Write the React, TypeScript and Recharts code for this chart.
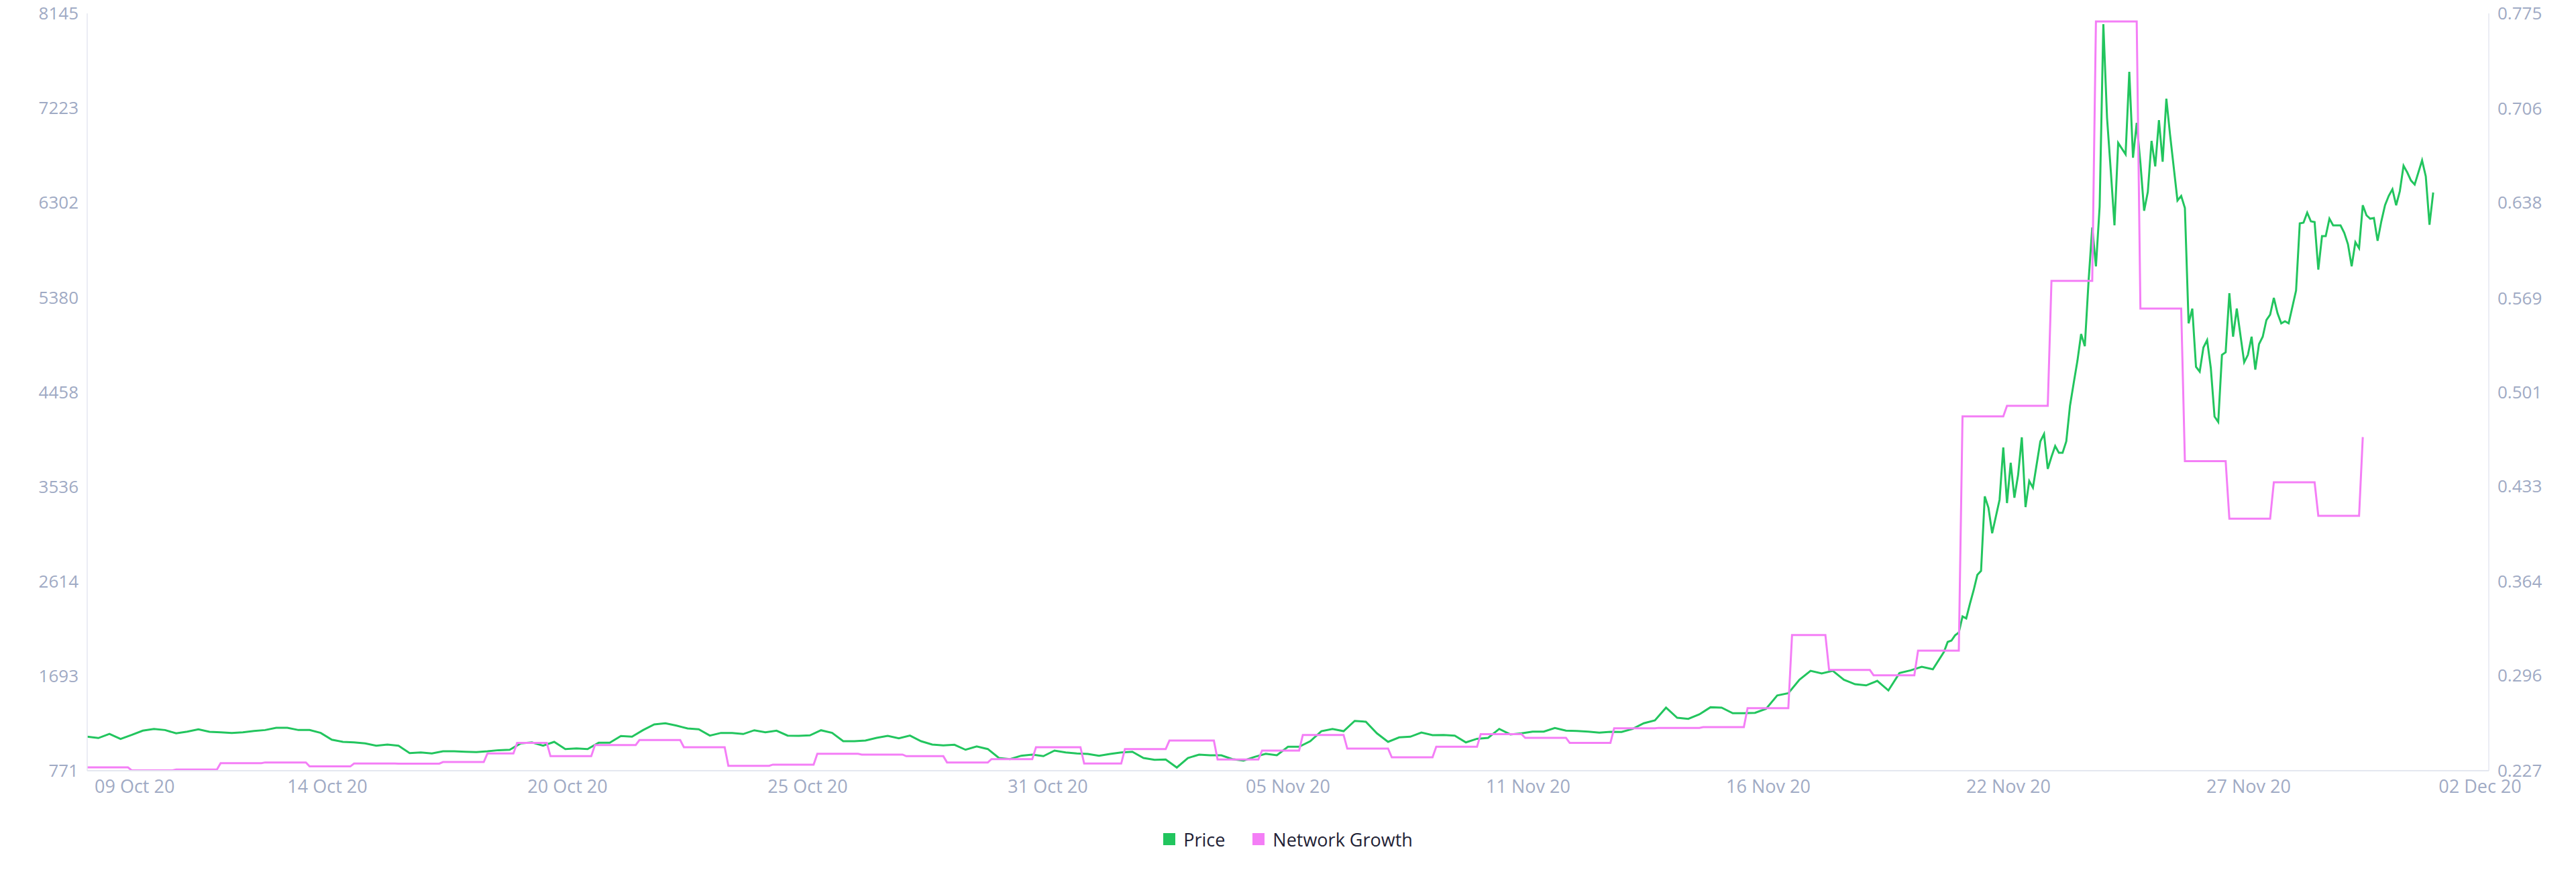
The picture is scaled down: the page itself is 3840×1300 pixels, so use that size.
import React from "react";
import { LineChart, Line, XAxis, YAxis, Legend } from "recharts";

const FONT = '"Open Sans", "Liberation Sans", sans-serif';
const TICK_COLOR = "#9faac4";
const AXIS_COLOR = "#e4e7f0";
const PRICE_COLOR = "#22c55e";
const NG_COLOR = "#f47ef6";

// x is hours since 09 Oct 20 00:00, the axis shows 54 days
const xTickLabels = [
	"09 Oct 20", "14 Oct 20", "20 Oct 20", "25 Oct 20", "31 Oct 20", "05 Nov 20",
	"11 Nov 20", "16 Nov 20", "22 Nov 20", "27 Nov 20", "02 Dec 20",
];
const xSpanHours = 54 * 24;
const xStep = xSpanHours / (xTickLabels.length - 1);
const xTicks = xTickLabels.map((_, i) => i * xStep);

const priceTicks = [771, 1693, 2614, 3536, 4458, 5380, 6302, 7223, 8145];
const ngTicks = [0.227, 0.296, 0.364, 0.433, 0.501, 0.569, 0.638, 0.706, 0.775];

// legend order as in the original
const seriesNames = ["Price", "Network Growth"];
const seriesColors = [PRICE_COLOR, NG_COLOR];

// price every 6 hours, 09 Oct -> 20 Nov
const calmPriceStep = 6;
const calmPrice = [
	1102, 1089, 1130, 1080, 1119, 1161, 1178, 1167, 1135, 1152, 1174, 1150, 1145, 1139, 1145, 1158, 1167, 1189, 1189, 1167,
	1167, 1139, 1073, 1052, 1047, 1037, 1015, 1026, 1015, 943, 949, 939, 960, 960, 956, 952, 960, 971, 975, 1037,
	1047, 1015, 1052, 982, 988, 982, 1043, 1043, 1109, 1102, 1167, 1222, 1233, 1210, 1182, 1174, 1113, 1139, 1139,
	1128, 1165, 1145, 1161, 1113, 1111, 1115, 1165, 1139, 1058, 1058, 1065, 1091, 1111, 1086, 1113, 1058, 1026, 1017, 1024,
	975, 1008, 982, 895, 884, 917, 928, 913, 967, 949, 939, 934, 917, 934, 949, 956, 895, 877, 880, 802,
	895, 928, 921, 921, 884, 869, 906, 936, 921, 1004, 1004, 1058, 1156, 1178,
	1156, 1256, 1248, 1135, 1052, 1096, 1102, 1143, 1117, 1119, 1113, 1047, 1082, 1091, 1178, 1124, 1135, 1152, 1152, 1187,
	1161, 1158, 1152, 1141, 1150, 1148, 1178, 1233, 1261, 1385, 1287, 1276, 1320, 1389, 1385, 1331, 1331, 1335, 1374, 1504,
	1526, 1657, 1744, 1718, 1744, 1657, 1613, 1602, 1646, 1553, 1722, 1748, 1783, 1759, 1929,
];

// the rally, [hour, price] at 2 hour resolution
const rallyPrice: [number, number][] = [
	[1004, 2025], [1006, 2038], [1008, 2090], [1010, 2116], [1012, 2273], [1014, 2254], [1016, 2397], [1018, 2528],
	[1020, 2678], [1022, 2717], [1024, 3442], [1026, 3331], [1028, 3083], [1032, 3410], [1034, 3919], [1036, 3377],
	[1038, 3769], [1040, 3429], [1042, 3651], [1044, 4017], [1046, 3338], [1048, 3592], [1050, 3527], [1054, 3978],
	[1056, 4050], [1058, 3710], [1060, 3828], [1062, 3932], [1064, 3867], [1066, 3867], [1068, 3978], [1070, 4324],
	[1072, 4546], [1074, 4761], [1076, 5023], [1078, 4905], [1080, 5532], [1082, 6061], [1084, 5682], [1086, 6264],
	[1088, 8040], [1090, 7126], [1092, 6616], [1094, 6081], [1096, 6884], [1100, 6773], [1102, 7576], [1104, 6740],
	[1106, 7080], [1108, 6688], [1110, 6224], [1112, 6407], [1114, 6904], [1116, 6655], [1118, 7106], [1120, 6701],
	[1122, 7315], [1124, 6963], [1128, 6323], [1130, 6368], [1132, 6251], [1134, 5127], [1136, 5271], [1138, 4703],
	[1140, 4657], [1142, 4892], [1144, 4964], [1146, 4690], [1148, 4219], [1150, 4167], [1152, 4820], [1154, 4846],
	[1156, 5421], [1158, 4997], [1160, 5271], [1164, 4748], [1166, 4820], [1168, 4997], [1170, 4677], [1172, 4925],
	[1174, 4997], [1176, 5160], [1178, 5212], [1180, 5375], [1182, 5225], [1184, 5127], [1186, 5147], [1188, 5127],
	[1192, 5447], [1194, 6100], [1196, 6107], [1198, 6205], [1200, 6120], [1202, 6113], [1204, 5650], [1206, 5976],
	[1208, 5976], [1210, 6146], [1212, 6081], [1216, 6081], [1218, 6009], [1220, 5898], [1222, 5682], [1224, 5918],
	[1226, 5859], [1228, 6277], [1230, 6179], [1232, 6146], [1234, 6153], [1236, 5931], [1238, 6120], [1240, 6277],
	[1242, 6368], [1244, 6433], [1246, 6277], [1248, 6414], [1250, 6662], [1252, 6597], [1254, 6518], [1256, 6479],
	[1260, 6714], [1262, 6558], [1264, 6087], [1266, 6401],
];

// network growth: hour each level starts, and its value
const ngStart = [
	0, 24, 48, 72, 96, 120, 144, 168, 192, 216, 232, 250, 274, 298, 322, 346, 370, 394, 418, 442,
	464, 488, 512, 538, 560, 584, 610, 634, 656, 680, 704, 728, 752, 776, 800, 824, 848, 872, 896, 920,
	940, 964, 988, 1012, 1036, 1060, 1084, 1108, 1132, 1156, 1180, 1204, 1228,
];
const ngValues = [
	0.2294, 0.2273, 0.2278, 0.2325, 0.233, 0.2301, 0.2322, 0.2321, 0.2333, 0.2395,
	0.2472, 0.2375, 0.2456, 0.2492, 0.244, 0.2305, 0.2314, 0.2392, 0.2387, 0.2375,
	0.233, 0.2354, 0.244, 0.2322, 0.2427, 0.2488, 0.2351, 0.2416, 0.2529, 0.243,
	0.2367, 0.2443, 0.2535, 0.2508, 0.2472, 0.2577, 0.258, 0.2585, 0.2723, 0.3252,
	0.2999, 0.2961, 0.3139, 0.4834, 0.4911, 0.5814, 0.7692, 0.5614, 0.451, 0.4094,
	0.4357, 0.4114, 0.4684,
];

const priceData = [
	...calmPrice.map((price, i) => ({ h: i * calmPriceStep, price })),
	...rallyPrice.map(([h, price]) => ({ h, price })),
];

// each level holds until 2h before the next one
const ngData = ngValues.flatMap((ng, i) =>
	i < ngValues.length - 1
		? [{ h: ngStart[i], ng }, { h: ngStart[i + 1] - 2, ng }]
		: [{ h: ngStart[i], ng }]
);

const XTick = (props: any) => {
	const { x, y, payload } = props;
	const i = Math.round(payload.value / xStep);
	let anchor = "middle";
	let dx = 0;
	if (i === 0) {
		anchor = "start";
		dx = 11;
	}
	if (i === xTickLabels.length - 1) dx = -13;
	return (
		<text x={x + dx} y={y} dy="0.71em" textAnchor={anchor} fill={TICK_COLOR} fontSize={27} fontFamily={FONT}>
			{xTickLabels[i]}
		</text>
	);
};

const LegendContent = () => (
	<div
		style={{
			display: "flex",
			justifyContent: "center",
			alignItems: "center",
			height: 40,
			fontFamily: FONT,
			fontSize: 27,
			color: "#1f2235",
		}}
	>
		{seriesNames.map((name, i) => (
			<div key={name} style={{ display: "flex", alignItems: "center", marginLeft: i ? 41 : 0 }}>
				<span style={{ width: 18, height: 18, background: seriesColors[i], marginRight: 12 }} />
				<span>{name}</span>
			</div>
		))}
	</div>
);

const yTick = { fill: TICK_COLOR, fontSize: 26, fontFamily: FONT };

const App: React.FC = () => {
	return (
		<div style={{ position: "absolute", left: 0, top: 0, width: 3840, height: 1300, background: "#fff" }}>
			<LineChart width={3840} height={1300} margin={{ top: 20, right: 0, left: 0, bottom: 29 }}>
				<XAxis
					dataKey="h"
					type="number"
					domain={[0, xSpanHours]}
					ticks={xTicks}
					interval={0}
					tick={<XTick />}
					tickLine={false}
					tickSize={0}
					tickMargin={14}
					height={82}
					axisLine={{ stroke: AXIS_COLOR, strokeWidth: 2 }}
				/>
				<YAxis
					yAxisId="price"
					orientation="left"
					width={130}
					domain={[priceTicks[0], priceTicks[priceTicks.length - 1]]}
					ticks={priceTicks}
					interval={0}
					tick={yTick}
					tickLine={false}
					tickSize={0}
					tickMargin={13}
					axisLine={{ stroke: AXIS_COLOR, strokeWidth: 1.5 }}
				/>
				<YAxis
					yAxisId="ng"
					orientation="right"
					width={130}
					domain={[ngTicks[0], ngTicks[ngTicks.length - 1]]}
					ticks={ngTicks}
					interval={0}
					tick={yTick}
					tickLine={false}
					tickSize={0}
					tickMargin={13}
					axisLine={{ stroke: AXIS_COLOR, strokeWidth: 1.5 }}
				/>
				<Legend verticalAlign="bottom" content={<LegendContent />} />
				<Line
					yAxisId="price"
					data={priceData}
					dataKey="price"
					name="Price"
					type="linear"
					stroke={PRICE_COLOR}
					strokeWidth={3}
					dot={false}
					isAnimationActive={false}
				/>
				<Line
					yAxisId="ng"
					data={ngData}
					dataKey="ng"
					name="Network Growth"
					type="linear"
					stroke={NG_COLOR}
					strokeWidth={3}
					dot={false}
					isAnimationActive={false}
				/>
			</LineChart>
		</div>
	);
};

export default App;
